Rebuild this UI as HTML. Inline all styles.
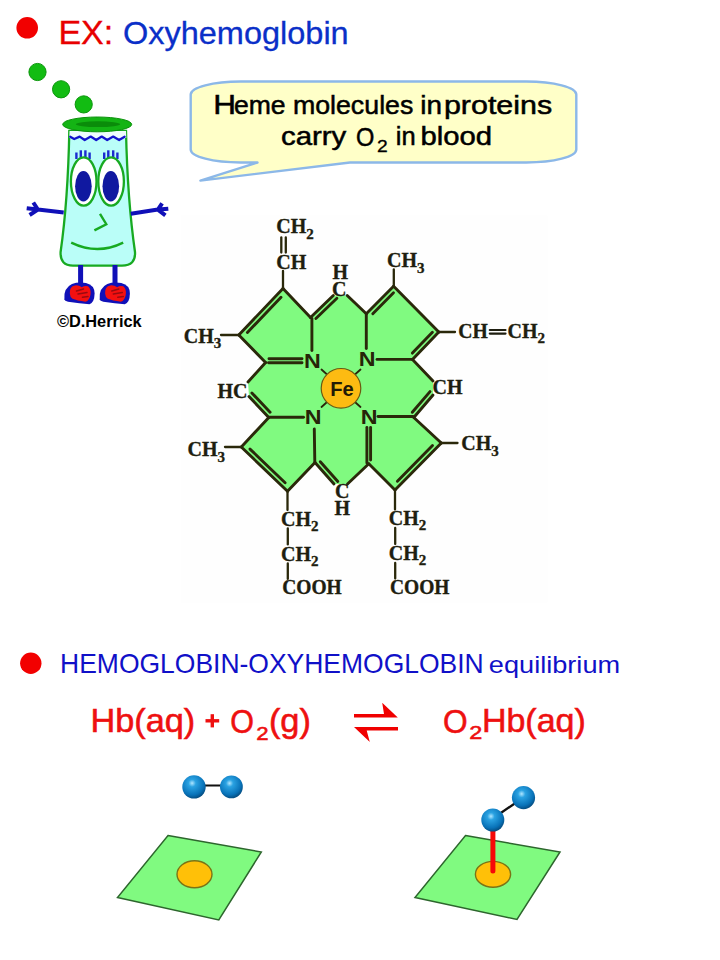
<!DOCTYPE html>
<html><head><meta charset="utf-8"><title>Oxyhemoglobin</title>
<style>html,body{margin:0;padding:0;background:#fff;}svg{display:block;}</style></head>
<body><svg width="720" height="960" viewBox="0 0 720 960">
<defs>
<radialGradient id="ball" cx="0.42" cy="0.34" r="0.72">
<stop offset="0" stop-color="#b0e6ff"/><stop offset="0.22" stop-color="#2aa2e2"/><stop offset="0.7" stop-color="#0872b8"/><stop offset="1" stop-color="#04406e"/>
</radialGradient></defs>
<rect width="720" height="960" fill="#fff"/>
<circle cx="27.2" cy="27.8" r="10.8" fill="#f20000"/>
<text x="58.40" y="44" font-family="'Liberation Sans', sans-serif" font-size="33" font-weight="400" fill="#e80000" stroke="#e80000" stroke-width="0.3" textLength="54.90" lengthAdjust="spacingAndGlyphs">EX:</text>
<text x="122.97" y="43.5" font-family="'Liberation Sans', sans-serif" font-size="32" font-weight="400" fill="#0a2fc8" stroke="#0a2fc8" stroke-width="0.3" textLength="225.71" lengthAdjust="spacingAndGlyphs">Oxyhemoglobin</text>
<circle cx="37.5" cy="72" r="8.6" fill="#12bc12" stroke="#0c960c" stroke-width="1"/>
<circle cx="61.1" cy="89.3" r="8.6" fill="#12bc12" stroke="#0c960c" stroke-width="1"/>
<circle cx="83.7" cy="104.4" r="8.6" fill="#12bc12" stroke="#0c960c" stroke-width="1"/>
<path d="M69.3,131 L126,131 Q127.5,200 135,252 Q135.8,265.6 122,265.6 L73,265.6 Q60,265.6 60.6,252 Q68,200 69.3,131 Z" fill="#bafef8" stroke="#18aa22" stroke-width="2.3"/>
<path d="M69.5,131 L126,131 L126.3,138 L69.3,138 Z" fill="#eefcfd"/>
<path d="M70.2,136.8 L74.2,139 L79.7,136.6 L84.7,140 L90.7,136.6 L96.2,140 L101.7,136.6 L107.2,140 L113.2,136.6 L119.1,140 L124.6,136.8" fill="none" stroke="#1414cc" stroke-width="2.3" stroke-linejoin="round" stroke-linecap="round"/>
<ellipse cx="97.2" cy="124.4" rx="34.5" ry="7.4" fill="#14b414" stroke="#0c920c" stroke-width="1"/>
<ellipse cx="98" cy="124.2" rx="22.2" ry="2.9" fill="#0a8c0a"/>
<line x1="76.4" y1="152.5" x2="76.4" y2="159" stroke="#1a2ad0" stroke-width="2.4"/>
<line x1="80.8" y1="150.3" x2="80.8" y2="159" stroke="#1a2ad0" stroke-width="2.4"/>
<line x1="85.4" y1="150.3" x2="85.4" y2="159" stroke="#1a2ad0" stroke-width="2.4"/>
<line x1="89.6" y1="152.5" x2="89.6" y2="159" stroke="#1a2ad0" stroke-width="2.4"/>
<line x1="104.2" y1="152.5" x2="104.2" y2="159" stroke="#1a2ad0" stroke-width="2.4"/>
<line x1="108.3" y1="150.3" x2="108.3" y2="159" stroke="#1a2ad0" stroke-width="2.4"/>
<line x1="113.2" y1="150.3" x2="113.2" y2="159" stroke="#1a2ad0" stroke-width="2.4"/>
<line x1="117.4" y1="152.5" x2="117.4" y2="159" stroke="#1a2ad0" stroke-width="2.4"/>
<ellipse cx="83.7" cy="181.5" rx="12.8" ry="24.2" fill="#fff" stroke="#18aa22" stroke-width="2.3"/>
<ellipse cx="83.4" cy="186.3" rx="8.3" ry="15.3" fill="#1018a0"/>
<ellipse cx="111.1" cy="181.5" rx="12.8" ry="24.2" fill="#fff" stroke="#18aa22" stroke-width="2.3"/>
<ellipse cx="110.8" cy="186.3" rx="8.3" ry="15.3" fill="#1018a0"/>
<path d="M100,213.8 L106.3,224.2 L94.4,230.4" fill="none" stroke="#18aa22" stroke-width="2.4"/>
<path d="M71.2,242.6 Q97.5,255.4 123.2,242.6" fill="none" stroke="#18aa22" stroke-width="2.4"/>
<path d="M63.7,212.5 L37.9,209.6 M37.9,209.6 L33.3,202.5 M37.9,209.6 L26.7,208.3 M37.9,209.6 L29.6,215" stroke="#1010b8" stroke-width="4" stroke-linecap="butt" fill="none"/>
<path d="M130.8,213.7 L157.9,209.6 M157.9,209.6 L162.1,203.3 M157.9,209.6 L168.3,208.7 M157.9,209.6 L165.4,215.4" stroke="#1010b8" stroke-width="4" stroke-linecap="butt" fill="none"/>
<rect x="78.1" y="265" width="5" height="21" fill="#1010b8"/>
<rect x="112.5" y="265" width="5" height="21" fill="#1010b8"/>
<path d="M 64.4,299.6 Q 63.2,288 72.0,284 Q 78.0,281.8 86.0,283 Q 94.6,285 94.6,293.5 Q 94.4,302.5 89.5,304.2 Q 80.0,303.8 68.0,301.8 Q 64.6,301 64.4,299.6 Z" fill="#1010b8"/><path d="M 69.8,293.5 Q 69.3,286.3 75.0,285.4 Q 79.0,285 81.8,287.3 Q 84.5,285.2 88.0,286.2 Q 91.2,288.5 90.5,294.5 Q 89.5,300.8 85.5,301.7 Q 77.0,300.6 72.5,298.8 Q 70.0,297 69.8,293.5 Z" fill="#f41010"/><line x1="76.5" y1="291" x2="83.5" y2="289" stroke="#9a0a10" stroke-width="1.5" stroke-linecap="round"/><line x1="78" y1="294" x2="87" y2="292.6" stroke="#9a0a10" stroke-width="1.5" stroke-linecap="round"/><line x1="82.5" y1="297.3" x2="88" y2="296.5" stroke="#9a0a10" stroke-width="1.5" stroke-linecap="round"/>
<path d="M 99.7,299.6 Q 98.5,288 107.3,284 Q 113.3,281.8 121.3,283 Q 129.9,285 129.9,293.5 Q 129.7,302.5 124.8,304.2 Q 115.3,303.8 103.3,301.8 Q 99.9,301 99.7,299.6 Z" fill="#1010b8"/><path d="M 105.1,293.5 Q 104.6,286.3 110.3,285.4 Q 114.3,285 117.1,287.3 Q 119.8,285.2 123.3,286.2 Q 126.5,288.5 125.8,294.5 Q 124.8,300.8 120.8,301.7 Q 112.3,300.6 107.8,298.8 Q 105.3,297 105.1,293.5 Z" fill="#f41010"/><line x1="111.8" y1="291" x2="118.8" y2="289" stroke="#9a0a10" stroke-width="1.5" stroke-linecap="round"/><line x1="113.3" y1="294" x2="122.3" y2="292.6" stroke="#9a0a10" stroke-width="1.5" stroke-linecap="round"/><line x1="117.8" y1="297.3" x2="123.3" y2="296.5" stroke="#9a0a10" stroke-width="1.5" stroke-linecap="round"/>
<text x="56.90" y="327.4" font-family="'Liberation Sans', sans-serif" font-size="16" font-weight="700" fill="#000" textLength="84.74" lengthAdjust="spacingAndGlyphs">©D.Herrick</text>
<path d="M240.7,81.5 L526.3,81.5 A50,13 0 0 1 576.3,94.5 L576.3,149.5 A50,13 0 0 1 526.3,162.5 L350,162.5 L200.4,180.6 L257.5,162.5 L240.7,162.5 A50,13 0 0 1 190.7,149.5 L190.7,94.5 A50,13 0 0 1 240.7,81.5 Z" fill="#ffffc8" stroke="#8cb8e8" stroke-width="2.4" stroke-linejoin="round"/>
<text x="213.27" y="113.6" font-family="'Liberation Sans', sans-serif" font-size="27" font-weight="400" fill="#000" stroke="#000" stroke-width="0.5" textLength="22.75" lengthAdjust="spacingAndGlyphs">H</text>
<text x="233.96" y="113.6" font-family="'Liberation Sans', sans-serif" font-size="25.5" font-weight="400" fill="#000" stroke="#000" stroke-width="0.5" textLength="51.68" lengthAdjust="spacingAndGlyphs">eme</text>
<text x="292.90" y="113.6" font-family="'Liberation Sans', sans-serif" font-size="25.5" font-weight="400" fill="#000" stroke="#000" stroke-width="0.5" textLength="120.45" lengthAdjust="spacingAndGlyphs">molecules</text>
<text x="420.31" y="113.6" font-family="'Liberation Sans', sans-serif" font-size="25.5" font-weight="400" fill="#000" stroke="#000" stroke-width="0.5" textLength="21.72" lengthAdjust="spacingAndGlyphs">in</text>
<text x="443.91" y="113.6" font-family="'Liberation Sans', sans-serif" font-size="25.5" font-weight="400" fill="#000" stroke="#000" stroke-width="0.5" textLength="108.26" lengthAdjust="spacingAndGlyphs">proteins</text>
<text x="280.95" y="145" font-family="'Liberation Sans', sans-serif" font-size="25.5" font-weight="400" fill="#000" stroke="#000" stroke-width="0.5" textLength="65.38" lengthAdjust="spacingAndGlyphs">carry</text>
<text x="356.09" y="146.2" font-family="'Liberation Sans', sans-serif" font-size="26" font-weight="400" fill="#000" stroke="#000" stroke-width="0.5" textLength="18.32" lengthAdjust="spacingAndGlyphs">O</text>
<text x="377.10" y="152.2" font-family="'Liberation Sans', sans-serif" font-size="16" font-weight="400" fill="#000" stroke="#000" stroke-width="0.3" textLength="10.69" lengthAdjust="spacingAndGlyphs">2</text>
<text x="395.80" y="145" font-family="'Liberation Sans', sans-serif" font-size="25.5" font-weight="400" fill="#000" stroke="#000" stroke-width="0.5" textLength="19.86" lengthAdjust="spacingAndGlyphs">in</text>
<text x="420.41" y="145" font-family="'Liberation Sans', sans-serif" font-size="25.5" font-weight="400" fill="#000" stroke="#000" stroke-width="0.5" textLength="71.61" lengthAdjust="spacingAndGlyphs">blood</text>
<rect x="181" y="215.5" width="366.5" height="387.3" fill="#fefefe"/>
<polygon points="283,288.5 310.5,317.5 333.3,295.5 347.2,295.5 366.3,313.8 393.6,286.3 438.8,332 412.5,359.5 433,381 433,395 413.8,417.5 441.3,443 395,490 368.8,463.8 347.5,484 334,484 315,462.5 287.5,491.3 241.3,447 268.8,417.5 249,396.5 248,382 265.6,362.5 238.8,335" fill="#80fa80" stroke="none"/>
<line x1="283.0" y1="288.5" x2="310.5" y2="317.5" stroke="#2a280a" stroke-width="2.9" stroke-linecap="round"/>
<line x1="310.5" y1="317.5" x2="333.3" y2="295.5" stroke="#2a280a" stroke-width="2.9" stroke-linecap="round"/>
<line x1="347.2" y1="295.5" x2="366.3" y2="313.8" stroke="#2a280a" stroke-width="2.9" stroke-linecap="round"/>
<line x1="366.3" y1="313.8" x2="393.6" y2="286.3" stroke="#2a280a" stroke-width="2.9" stroke-linecap="round"/>
<line x1="393.6" y1="286.3" x2="438.8" y2="332.0" stroke="#2a280a" stroke-width="2.9" stroke-linecap="round"/>
<line x1="438.8" y1="332.0" x2="412.5" y2="359.5" stroke="#2a280a" stroke-width="2.9" stroke-linecap="round"/>
<line x1="412.5" y1="359.5" x2="433.0" y2="381.0" stroke="#2a280a" stroke-width="2.9" stroke-linecap="round"/>
<line x1="433.0" y1="395.0" x2="413.8" y2="417.5" stroke="#2a280a" stroke-width="2.9" stroke-linecap="round"/>
<line x1="413.8" y1="417.5" x2="441.3" y2="443.0" stroke="#2a280a" stroke-width="2.9" stroke-linecap="round"/>
<line x1="441.3" y1="443.0" x2="395.0" y2="490.0" stroke="#2a280a" stroke-width="2.9" stroke-linecap="round"/>
<line x1="395.0" y1="490.0" x2="368.8" y2="463.8" stroke="#2a280a" stroke-width="2.9" stroke-linecap="round"/>
<line x1="368.8" y1="463.8" x2="347.5" y2="484.0" stroke="#2a280a" stroke-width="2.9" stroke-linecap="round"/>
<line x1="334.0" y1="484.0" x2="315.0" y2="462.5" stroke="#2a280a" stroke-width="2.9" stroke-linecap="round"/>
<line x1="315.0" y1="462.5" x2="287.5" y2="491.3" stroke="#2a280a" stroke-width="2.9" stroke-linecap="round"/>
<line x1="287.5" y1="491.3" x2="241.3" y2="447.0" stroke="#2a280a" stroke-width="2.9" stroke-linecap="round"/>
<line x1="241.3" y1="447.0" x2="268.8" y2="417.5" stroke="#2a280a" stroke-width="2.9" stroke-linecap="round"/>
<line x1="268.8" y1="417.5" x2="249.0" y2="396.5" stroke="#2a280a" stroke-width="2.9" stroke-linecap="round"/>
<line x1="248.0" y1="382.0" x2="265.6" y2="362.5" stroke="#2a280a" stroke-width="2.9" stroke-linecap="round"/>
<line x1="265.6" y1="362.5" x2="238.8" y2="335.0" stroke="#2a280a" stroke-width="2.9" stroke-linecap="round"/>
<line x1="238.8" y1="335.0" x2="283.0" y2="288.5" stroke="#2a280a" stroke-width="2.9" stroke-linecap="round"/>
<line x1="281.0" y1="297.2" x2="247.4" y2="332.5" stroke="#2a280a" stroke-width="2.9" stroke-linecap="round"/>
<line x1="315.9" y1="318.5" x2="336.9" y2="298.3" stroke="#2a280a" stroke-width="2.9" stroke-linecap="round"/>
<line x1="372.8" y1="313.7" x2="393.5" y2="292.8" stroke="#2a280a" stroke-width="2.9" stroke-linecap="round"/>
<line x1="432.4" y1="332.2" x2="412.4" y2="353.1" stroke="#2a280a" stroke-width="2.9" stroke-linecap="round"/>
<line x1="412.3" y1="412.3" x2="430.0" y2="391.6" stroke="#2a280a" stroke-width="2.9" stroke-linecap="round"/>
<line x1="432.5" y1="445.5" x2="397.4" y2="481.2" stroke="#2a280a" stroke-width="2.9" stroke-linecap="round"/>
<line x1="320.3" y1="461.7" x2="337.8" y2="481.5" stroke="#2a280a" stroke-width="2.9" stroke-linecap="round"/>
<line x1="285.1" y1="482.7" x2="250.0" y2="449.1" stroke="#2a280a" stroke-width="2.9" stroke-linecap="round"/>
<line x1="270.1" y1="412.3" x2="251.9" y2="393.0" stroke="#2a280a" stroke-width="2.9" stroke-linecap="round"/>
<line x1="268.5" y1="362.8" x2="302.0" y2="362.8" stroke="#2a280a" stroke-width="2.9" stroke-linecap="round"/>
<line x1="269.0" y1="358.8" x2="302.0" y2="358.8" stroke="#2a280a" stroke-width="2.9" stroke-linecap="round"/>
<line x1="311.9" y1="318.5" x2="311.9" y2="350.5" stroke="#2a280a" stroke-width="2.9" stroke-linecap="round"/>
<line x1="366.3" y1="314.5" x2="366.3" y2="348.5" stroke="#2a280a" stroke-width="2.9" stroke-linecap="round"/>
<line x1="377.0" y1="359.4" x2="412.0" y2="359.4" stroke="#2a280a" stroke-width="2.9" stroke-linecap="round"/>
<line x1="269.5" y1="417.2" x2="303.5" y2="417.2" stroke="#2a280a" stroke-width="2.9" stroke-linecap="round"/>
<line x1="314.3" y1="429.0" x2="314.8" y2="462.0" stroke="#2a280a" stroke-width="2.9" stroke-linecap="round"/>
<line x1="378.0" y1="416.5" x2="413.0" y2="416.5" stroke="#2a280a" stroke-width="2.9" stroke-linecap="round"/>
<line x1="366.9" y1="427.5" x2="366.9" y2="463.0" stroke="#2a280a" stroke-width="2.9" stroke-linecap="round"/>
<line x1="370.6" y1="427.5" x2="370.6" y2="460.0" stroke="#2a280a" stroke-width="2.9" stroke-linecap="round"/>
<line x1="283.0" y1="288.5" x2="283.0" y2="271.0" stroke="#2a280a" stroke-width="2.3" stroke-linecap="round"/>
<line x1="393.8" y1="286.3" x2="393.8" y2="269.5" stroke="#2a280a" stroke-width="2.3" stroke-linecap="round"/>
<line x1="438.8" y1="332.0" x2="455.0" y2="332.0" stroke="#2a280a" stroke-width="2.3" stroke-linecap="round"/>
<line x1="441.3" y1="443.0" x2="457.5" y2="443.0" stroke="#2a280a" stroke-width="2.3" stroke-linecap="round"/>
<line x1="395.0" y1="490.0" x2="395.0" y2="509.5" stroke="#2a280a" stroke-width="2.3" stroke-linecap="round"/>
<line x1="287.5" y1="491.3" x2="287.5" y2="510.0" stroke="#2a280a" stroke-width="2.3" stroke-linecap="round"/>
<line x1="241.3" y1="447.0" x2="225.0" y2="447.0" stroke="#2a280a" stroke-width="2.3" stroke-linecap="round"/>
<line x1="238.8" y1="335.0" x2="221.0" y2="335.0" stroke="#2a280a" stroke-width="2.3" stroke-linecap="round"/>
<line x1="287.8" y1="528.5" x2="287.8" y2="544.4" stroke="#2a280a" stroke-width="2.3" stroke-linecap="round"/>
<line x1="395.2" y1="528.0" x2="395.2" y2="544.0" stroke="#2a280a" stroke-width="2.3" stroke-linecap="round"/>
<line x1="287.8" y1="563.5" x2="287.8" y2="578.9" stroke="#2a280a" stroke-width="2.3" stroke-linecap="round"/>
<line x1="395.2" y1="563.0" x2="395.2" y2="578.5" stroke="#2a280a" stroke-width="2.3" stroke-linecap="round"/>
<line x1="281.3" y1="237.5" x2="281.3" y2="252.5" stroke="#2a280a" stroke-width="2.3" stroke-linecap="round"/>
<line x1="285.8" y1="237.5" x2="285.8" y2="252.5" stroke="#2a280a" stroke-width="2.3" stroke-linecap="round"/>
<line x1="321.5" y1="369.5" x2="326.5" y2="374.0" stroke="#2a280a" stroke-width="1.8" stroke-linecap="round"/>
<line x1="360.5" y1="369.5" x2="355.5" y2="374.0" stroke="#2a280a" stroke-width="1.8" stroke-linecap="round"/>
<line x1="321.5" y1="407.0" x2="326.5" y2="402.5" stroke="#2a280a" stroke-width="1.8" stroke-linecap="round"/>
<line x1="360.5" y1="407.0" x2="355.5" y2="402.5" stroke="#2a280a" stroke-width="1.8" stroke-linecap="round"/>
<circle cx="341" cy="388.3" r="19.8" fill="#fdbb12" stroke="#6b5a12" stroke-width="1.2"/>
<text x="330.3" y="395.5" font-size="20" fill="#231a05" font-weight="bold" font-family="'Liberation Sans', sans-serif" text-anchor="start" textLength="23.5" lengthAdjust="spacingAndGlyphs">Fe</text>
<text x="303.9" y="367.5" font-size="20" fill="#262408" font-weight="bold" font-family="'Liberation Sans', sans-serif" text-anchor="start" textLength="16.8" lengthAdjust="spacingAndGlyphs">N</text>
<text x="358.7" y="366" font-size="20" fill="#262408" font-weight="bold" font-family="'Liberation Sans', sans-serif" text-anchor="start" textLength="16.8" lengthAdjust="spacingAndGlyphs">N</text>
<text x="304.7" y="424.3" font-size="20" fill="#262408" font-weight="bold" font-family="'Liberation Sans', sans-serif" text-anchor="start" textLength="16.8" lengthAdjust="spacingAndGlyphs">N</text>
<text x="360.7" y="424.3" font-size="20" fill="#262408" font-weight="bold" font-family="'Liberation Sans', sans-serif" text-anchor="start" textLength="16.8" lengthAdjust="spacingAndGlyphs">N</text>
<text x="276.2" y="233.4" font-size="20" fill="#1e1e10" font-weight="bold" font-family="'Liberation Serif', serif" text-anchor="start" stroke="#1e1e10" stroke-width="0.35">CH<tspan font-size="15" dy="5.5">2</tspan></text>
<text x="276.2" y="268.8" font-size="20" fill="#1e1e10" font-weight="bold" font-family="'Liberation Serif', serif" text-anchor="start" stroke="#1e1e10" stroke-width="0.35">CH</text>
<text x="332.5" y="279" font-size="20" fill="#1e1e10" font-weight="bold" font-family="'Liberation Serif', serif" text-anchor="start" stroke="#1e1e10" stroke-width="0.35">H</text>
<text x="332" y="296" font-size="20" fill="#1e1e10" font-weight="bold" font-family="'Liberation Serif', serif" text-anchor="start" stroke="#1e1e10" stroke-width="0.35">C</text>
<text x="387" y="267" font-size="20" fill="#1e1e10" font-weight="bold" font-family="'Liberation Serif', serif" text-anchor="start" stroke="#1e1e10" stroke-width="0.35">CH<tspan font-size="15" dy="5.5">3</tspan></text>
<text x="458.3" y="337.5" font-size="20" fill="#1e1e10" font-weight="bold" font-family="'Liberation Serif', serif" text-anchor="start" textLength="29.5" lengthAdjust="spacingAndGlyphs" stroke="#1e1e10" stroke-width="0.35">CH</text>
<text x="507.5" y="337.5" font-size="20" fill="#1e1e10" font-weight="bold" font-family="'Liberation Serif', serif" text-anchor="start" stroke="#1e1e10" stroke-width="0.35">CH<tspan font-size="15" dy="5.5">2</tspan></text>
<line x1="489.8" y1="330.0" x2="505.5" y2="330.0" stroke="#1e1e10" stroke-width="2.2" stroke-linecap="round"/>
<line x1="489.8" y1="333.6" x2="505.5" y2="333.6" stroke="#1e1e10" stroke-width="2.2" stroke-linecap="round"/>
<text x="183.7" y="342.5" font-size="20" fill="#1e1e10" font-weight="bold" font-family="'Liberation Serif', serif" text-anchor="start" stroke="#1e1e10" stroke-width="0.35">CH<tspan font-size="15" dy="5.5">3</tspan></text>
<text x="217.5" y="397.5" font-size="20" fill="#1e1e10" font-weight="bold" font-family="'Liberation Serif', serif" text-anchor="start" stroke="#1e1e10" stroke-width="0.35">HC</text>
<text x="432.5" y="393.8" font-size="20" fill="#1e1e10" font-weight="bold" font-family="'Liberation Serif', serif" text-anchor="start" stroke="#1e1e10" stroke-width="0.35">CH</text>
<text x="187.5" y="456.3" font-size="20" fill="#1e1e10" font-weight="bold" font-family="'Liberation Serif', serif" text-anchor="start" stroke="#1e1e10" stroke-width="0.35">CH<tspan font-size="15" dy="5.5">3</tspan></text>
<text x="461.3" y="450" font-size="20" fill="#1e1e10" font-weight="bold" font-family="'Liberation Serif', serif" text-anchor="start" stroke="#1e1e10" stroke-width="0.35">CH<tspan font-size="15" dy="5.5">3</tspan></text>
<text x="335" y="497.5" font-size="20" fill="#1e1e10" font-weight="bold" font-family="'Liberation Serif', serif" text-anchor="start" stroke="#1e1e10" stroke-width="0.35">C</text>
<text x="334.6" y="514.6" font-size="20" fill="#1e1e10" font-weight="bold" font-family="'Liberation Serif', serif" text-anchor="start" stroke="#1e1e10" stroke-width="0.35">H</text>
<text x="281.1" y="525.6" font-size="20" fill="#1e1e10" font-weight="bold" font-family="'Liberation Serif', serif" text-anchor="start" stroke="#1e1e10" stroke-width="0.35">CH<tspan font-size="15" dy="5.5">2</tspan></text>
<text x="388.8" y="524.8" font-size="20" fill="#1e1e10" font-weight="bold" font-family="'Liberation Serif', serif" text-anchor="start" stroke="#1e1e10" stroke-width="0.35">CH<tspan font-size="15" dy="5.5">2</tspan></text>
<text x="281.1" y="560.6" font-size="20" fill="#1e1e10" font-weight="bold" font-family="'Liberation Serif', serif" text-anchor="start" stroke="#1e1e10" stroke-width="0.35">CH<tspan font-size="15" dy="5.5">2</tspan></text>
<text x="388.8" y="559.8" font-size="20" fill="#1e1e10" font-weight="bold" font-family="'Liberation Serif', serif" text-anchor="start" stroke="#1e1e10" stroke-width="0.35">CH<tspan font-size="15" dy="5.5">2</tspan></text>
<text x="282.2" y="594.4" font-size="20" fill="#1e1e10" font-weight="bold" font-family="'Liberation Serif', serif" text-anchor="start" textLength="59.5" lengthAdjust="spacingAndGlyphs" stroke="#1e1e10" stroke-width="0.35">COOH</text>
<text x="390" y="594.4" font-size="20" fill="#1e1e10" font-weight="bold" font-family="'Liberation Serif', serif" text-anchor="start" textLength="59.5" lengthAdjust="spacingAndGlyphs" stroke="#1e1e10" stroke-width="0.35">COOH</text>
<circle cx="30.8" cy="663.2" r="10.7" fill="#f20000"/>
<text x="60.07" y="673" font-family="'Liberation Sans', sans-serif" font-size="27.5" font-weight="400" fill="#1010c8" textLength="423.63" lengthAdjust="spacingAndGlyphs">HEMOGLOBIN-OXYHEMOGLOBIN</text>
<text x="488.87" y="672.8" font-family="'Liberation Sans', sans-serif" font-size="24" font-weight="400" fill="#1010c8" textLength="131.26" lengthAdjust="spacingAndGlyphs">equilibrium</text>
<text x="90.48" y="732" font-family="'Liberation Sans', sans-serif" font-size="33" font-weight="400" fill="#ee1010" stroke="#ee1010" stroke-width="0.55" textLength="104.76" lengthAdjust="spacingAndGlyphs">Hb(aq)</text>
<text x="230.15" y="732.5" font-family="'Liberation Sans', sans-serif" font-size="33" font-weight="400" fill="#ee1010" stroke="#ee1010" stroke-width="0.55" textLength="23.69" lengthAdjust="spacingAndGlyphs">O</text>
<text x="256.33" y="739.6" font-family="'Liberation Sans', sans-serif" font-size="19" font-weight="400" fill="#ee1010" stroke="#ee1010" stroke-width="0.55" textLength="12.34" lengthAdjust="spacingAndGlyphs">2</text>
<text x="268.92" y="732" font-family="'Liberation Sans', sans-serif" font-size="33" font-weight="400" fill="#ee1010" stroke="#ee1010" stroke-width="0.55" textLength="42.02" lengthAdjust="spacingAndGlyphs">(g)</text>
<rect x="205.5" y="719.1" width="13.7" height="3.4" fill="#ee1010"/><rect x="210.6" y="714.2" width="3.4" height="13.2" fill="#ee1010"/>
<path d="M354,713.9 L384,713.9 L382.2,702.8 L397.8,717.6 L354,717.6 Z" fill="#f00000"/>
<path d="M398,726.9 L354,726.9 L369.8,742 L366.7,730.6 L398,730.6 Z" fill="#f00000"/>
<text x="443.08" y="732.5" font-family="'Liberation Sans', sans-serif" font-size="33" font-weight="400" fill="#ee1010" stroke="#ee1010" stroke-width="0.55" textLength="24.62" lengthAdjust="spacingAndGlyphs">O</text>
<text x="469.37" y="739" font-family="'Liberation Sans', sans-serif" font-size="19" font-weight="400" fill="#ee1010" stroke="#ee1010" stroke-width="0.55" textLength="13.05" lengthAdjust="spacingAndGlyphs">2</text>
<text x="481.91" y="732" font-family="'Liberation Sans', sans-serif" font-size="33" font-weight="400" fill="#ee1010" stroke="#ee1010" stroke-width="0.55" textLength="103.92" lengthAdjust="spacingAndGlyphs">Hb(aq)</text>
<polygon points="168,835.5 261.3,852 218.8,920 117.5,897.5" fill="#80fa80" stroke="#2d662d" stroke-width="1.5"/><ellipse cx="194.5" cy="874.3" rx="17.5" ry="13.5" fill="#ffc008" stroke="#7a7416" stroke-width="1.4"/>
<line x1="196.0" y1="785.5" x2="230.0" y2="785.5" stroke="#111" stroke-width="2.2" stroke-linecap="round"/>
<circle cx="194" cy="786.9" r="11.7" fill="url(#ball)"/>
<circle cx="231.4" cy="786.9" r="11.4" fill="url(#ball)"/>
<polygon points="465.5,835.5 560,852 517,919.5 415,897.5" fill="#80fa80" stroke="#2d662d" stroke-width="1.5"/><ellipse cx="493" cy="874.3" rx="17.6" ry="12.9" fill="#ffc008" stroke="#7a7416" stroke-width="1.4"/>
<line x1="492.9" y1="826" x2="492.9" y2="871" stroke="#f60808" stroke-width="5" stroke-linecap="round"/>
<line x1="501.5" y1="812.5" x2="515.5" y2="803.0" stroke="#111" stroke-width="2.3" stroke-linecap="round"/>
<circle cx="492.8" cy="820" r="11.5" fill="url(#ball)"/>
<circle cx="523.5" cy="797.6" r="11.6" fill="url(#ball)"/>
</svg></body></html>
